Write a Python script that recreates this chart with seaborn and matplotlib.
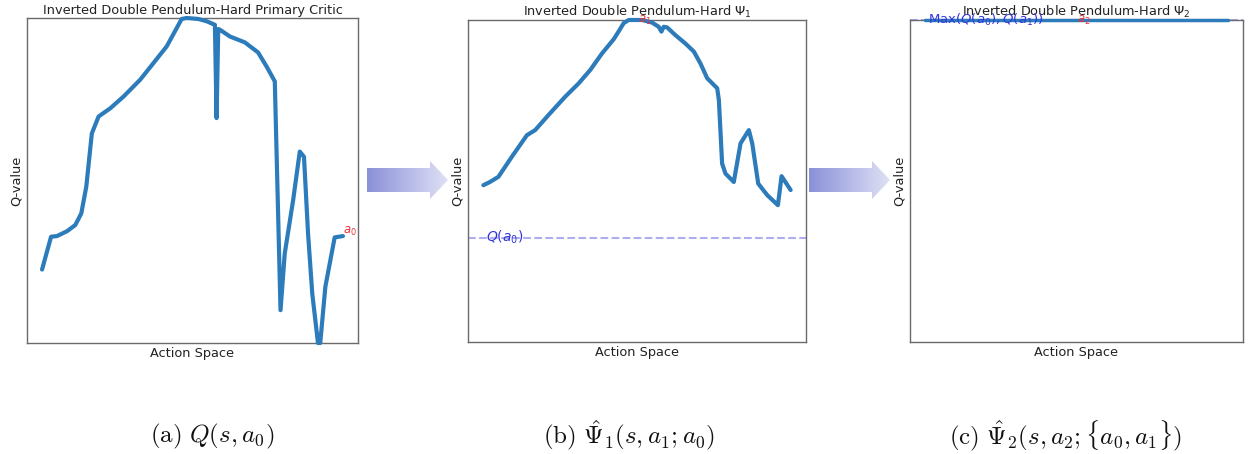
import numpy as np
import matplotlib
matplotlib.use("Agg")
import matplotlib.pyplot as plt
from matplotlib.patches import Polygon
import seaborn as sns

# Primary critic Q(s, a) over the action space (normalised Q-values)
act_primary = [-1.000, -0.940, -0.901, -0.834, -0.779, -0.739, -0.706, -0.669, -0.624,
               -0.547, -0.459, -0.348, -0.260, -0.171, -0.072, -0.039, 0.039, 0.094,
               0.149, 0.160, 0.171, 0.182, 0.249, 0.348, 0.436, 0.492, 0.547, 0.585,
               0.613, 0.669, 0.713, 0.741, 0.768, 0.796, 0.834, 0.849, 0.883, 0.945, 1.000]
q_primary = [0.226, 0.327, 0.329, 0.344, 0.363, 0.399, 0.481, 0.645, 0.697,
             0.722, 0.758, 0.810, 0.861, 0.913, 0.997, 1.000, 0.997, 0.990,
             0.979, 0.692, 0.966, 0.964, 0.943, 0.925, 0.894, 0.851, 0.805, 0.101,
             0.275, 0.440, 0.589, 0.573, 0.337, 0.152, 0.000, 0.000, 0.173, 0.325, 0.329]

# Psi_1 utility over the action space
act_psi1 = [-1.000, -0.957, -0.902, -0.815, -0.717, -0.663, -0.576, -0.467, -0.380,
            -0.304, -0.228, -0.152, -0.120, -0.087, -0.054, 0.033, 0.098, 0.141,
            0.159, 0.174, 0.196, 0.250, 0.315, 0.370, 0.413, 0.457, 0.522, 0.533,
            0.554, 0.576, 0.630, 0.674, 0.728, 0.750, 0.789, 0.848, 0.917, 0.941, 1.000]
q_psi1 = [0.487, 0.497, 0.513, 0.575, 0.642, 0.658, 0.705, 0.762, 0.803,
          0.845, 0.896, 0.940, 0.964, 0.990, 1.000, 1.000, 0.992, 0.979,
          0.964, 0.979, 0.977, 0.953, 0.927, 0.902, 0.865, 0.819, 0.788, 0.751,
          0.554, 0.523, 0.497, 0.617, 0.658, 0.617, 0.492, 0.456, 0.425, 0.515, 0.472]
q_a0_level = 0.324

# Psi_2 utility: flat at max(Q(a0), Q(a1))
act_psi2 = [-1.0, 1.0]
q_psi2 = [1.0, 1.0]
q_max_level = 1.0

# Selected actions
a0_x, a0_q = act_primary[-1], q_primary[-1]
a1_x, a1_q = 0.05, 1.0
a2_x, a2_q = 0.05, 1.0

titles = ["Inverted Double Pendulum-Hard Primary Critic",
          r"Inverted Double Pendulum-Hard $\Psi_1$",
          r"Inverted Double Pendulum-Hard $\Psi_2$"]
captions = [r"$\mathrm{(a)}\ Q(s, a_0)$",
            r"$\mathrm{(b)}\ \hat{\Psi}_1(s, a_1; a_0)$",
            r"$\mathrm{(c)}\ \hat{\Psi}_2(s, a_2; \{a_0, a_1\})$"]

sns.set_theme(style="white")
plt.rcParams["font.family"] = ["DejaVu Sans"]

W, H = 1250, 454
fig = plt.figure(figsize=(W / 100, H / 100), dpi=100)

def px_axes(l, t, r, b):
    return fig.add_axes([l / W, 1 - b / H, (r - l) / W, (b - t) / H])

LINE = "#2c7bbb"
RED = "#e8323c"
BLUE = "#3434dc"
DASH = "#adadf0"
FS = 9.3

axes = [px_axes(27, 18, 358, 343), px_axes(468, 20, 806, 342), px_axes(910, 20, 1243, 342)]

for ax, t in zip(axes, titles):
    ax.set_title(t, fontsize=FS, pad=3, color="#222222")
    ax.set_xlabel("Action Space", fontsize=FS, labelpad=3, color="#222222")
    ax.set_ylabel("Q-value", fontsize=FS, labelpad=3, color="#222222")
    ax.set_xticks([])
    ax.set_yticks([])
    for s in ax.spines.values():
        s.set_color("#6a6a6a")
        s.set_linewidth(1.0)

# (a) primary critic
ax = axes[0]
sns.lineplot(x=act_primary, y=q_primary, ax=ax, color=LINE, linewidth=3,
             sort=False, estimator=None, zorder=3)
ax.set_ylim(min(q_primary), max(q_primary))
ax.annotate(r"$a_0$", (a0_x, a0_q), xytext=(0, 3), textcoords="offset points",
            color=RED, fontsize=8.5, ha="left", va="center")

# (b) Psi_1
ax = axes[1]
ax.axhline(q_a0_level, color=DASH, linestyle="--", linewidth=1.5)
sns.lineplot(x=act_psi1, y=q_psi1, ax=ax, color=LINE, linewidth=3,
             sort=False, estimator=None, zorder=3)
ax.set_ylim(0, max(q_psi1))
ax.text(-0.98, q_a0_level, r"$Q(a_0)$", color=BLUE, fontsize=10, ha="left", va="center")
ax.text(a1_x, a1_q, r"$a_1$", color=RED, fontsize=8.5, ha="center", va="center",
        clip_on=False, zorder=4)

# (c) Psi_2
ax = axes[2]
ax.axhline(q_max_level, color=DASH, linestyle="--", linewidth=1.5)
sns.lineplot(x=act_psi2, y=q_psi2, ax=ax, color=LINE, linewidth=2.5,
             sort=False, estimator=None, zorder=3)
ax.set_ylim(0, q_max_level)
ax.set_xlim(-1.1, 1.1)
ax.text(-0.98, q_max_level, r"Max$(Q(a_0), Q(a_1))$", color=BLUE, fontsize=9.5,
        ha="left", va="center", clip_on=False, zorder=4)
ax.text(a2_x, a2_q, r"$a_2$", color=RED, fontsize=8.5, ha="center", va="center",
        clip_on=False, zorder=4)

for ax in axes:
    for ln in ax.get_lines():
        ln.set_clip_on(False)

# captions below each panel
for cx, cap in zip([212, 629, 1066], captions):
    fig.text(cx / W, 1 - 436 / H, cap, fontsize=18, ha="center", va="center",
             math_fontfamily="cm", color="#111111")

# gradient arrows between the panels
over = fig.add_axes([0, 0, 1, 1], zorder=-1)
over.set_xlim(0, W)
over.set_ylim(H, 0)
over.axis("off")
grad = np.linspace(0, 1, 256).reshape(1, -1)
cmap = matplotlib.colors.LinearSegmentedColormap.from_list("arr", ["#8a90d8", "#dfe1f5"])
for x0, x1 in [(367, 448), (809, 890)]:
    neck = x1 - 18
    pts = [(x0, 168), (neck, 168), (neck, 161), (x1, 180), (neck, 199), (neck, 192), (x0, 192)]
    poly = Polygon(pts, closed=True, facecolor="none", edgecolor="none")
    over.add_patch(poly)
    im = over.imshow(grad, extent=(x0, x1, 199, 161), cmap=cmap, aspect="auto")
    im.set_clip_path(poly)
over.set_xlim(0, W)
over.set_ylim(H, 0)

fig.savefig("out.png", dpi=100, facecolor="white")
